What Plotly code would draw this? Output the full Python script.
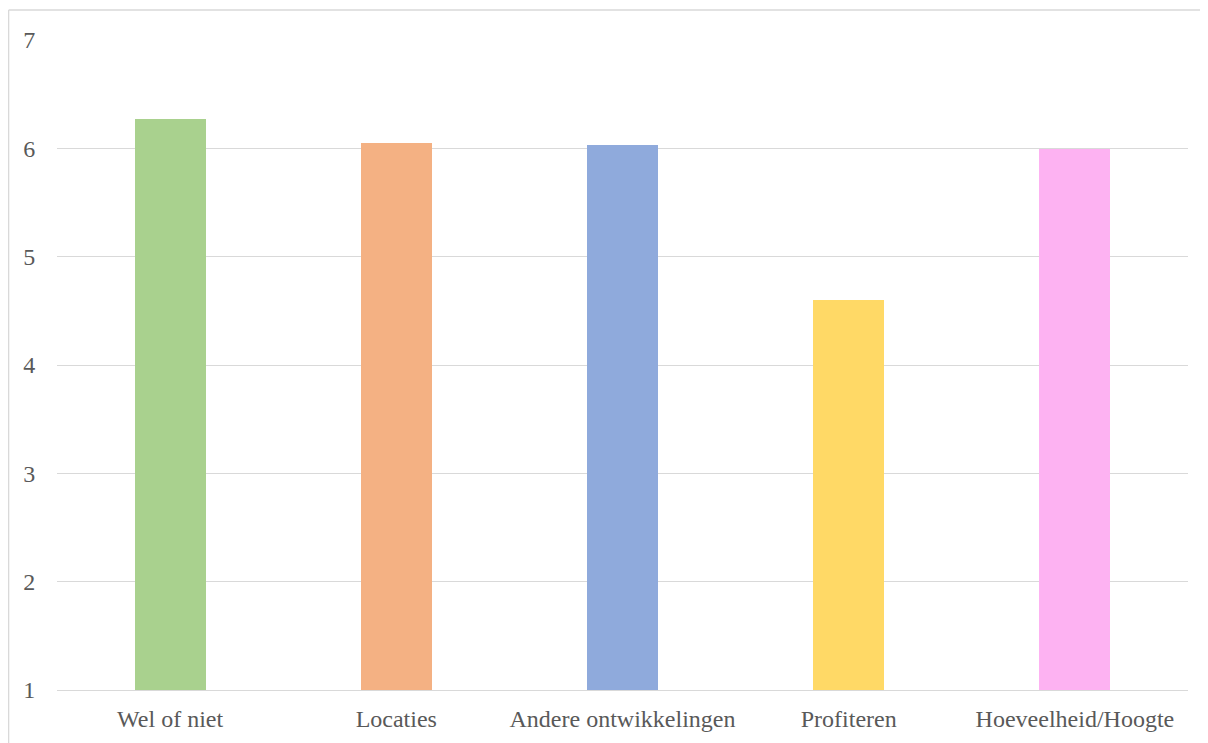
import plotly.graph_objects as go

categories = ["Wel of niet", "Locaties", "Andere ontwikkelingen", "Profiteren", "Hoeveelheid/Hoogte"]
values = [6.27, 6.05, 6.03, 4.60, 5.99]
colors = ["#a9d18e", "#f4b183", "#8faadc", "#ffd966", "#fdb2f2"]
y_ticks = [1, 2, 3, 4, 5, 6, 7]

# page body has an 8px default margin; figure is sized/offset to compensate
W, H = 1200, 735
ml, mr, mt, mb = 49, 20, 32, 53
pw, ph = W - ml - mr, H - mt - mb

fig = go.Figure(go.Bar(
    x=categories, y=values, marker=dict(color=colors, line=dict(width=0)),
    width=0.314,
))

font = dict(family="Liberation Serif, Times New Roman, serif", size=24, color="#595959")

fig.update_layout(
    width=W, height=H,
    margin=dict(l=ml, r=mr, t=mt, b=mb, pad=0, autoexpand=False),
    paper_bgcolor="white", plot_bgcolor="white",
    showlegend=False,
    font=font,
    bargap=0,
    shapes=[
        dict(type="line", xref="paper", yref="paper",
             x0=(0.65 - ml) / pw, x1=(W + 10 - ml) / pw,
             y0=1 + (mt - 2) / ph, y1=1 + (mt - 2) / ph,
             line=dict(color="#d9d9d9", width=1.3)),
        dict(type="line", xref="paper", yref="paper",
             x0=(0.65 - ml) / pw, x1=(0.65 - ml) / pw,
             y0=1 + (mt - 2) / ph, y1=-(mb + 10) / ph,
             line=dict(color="#d9d9d9", width=1.3)),
    ],
)

fig.update_yaxes(
    range=[1, 7], tickvals=y_ticks, ticktext=[str(v) for v in y_ticks],
    showgrid=True, gridcolor="#d9d9d9", gridwidth=1.3,
    zeroline=False, showline=False, automargin=False,
    ticks="outside", ticklen=16, tickcolor="rgba(0,0,0,0)",
    tickfont=font,
)
fig.update_xaxes(
    showgrid=False, zeroline=False, automargin=False,
    showline=True, linecolor="#d9d9d9", linewidth=1.3,
    ticks="outside", ticklen=7, tickcolor="rgba(0,0,0,0)",
    tickfont=font, tickangle=0,
)

fig.write_html("out.html")
